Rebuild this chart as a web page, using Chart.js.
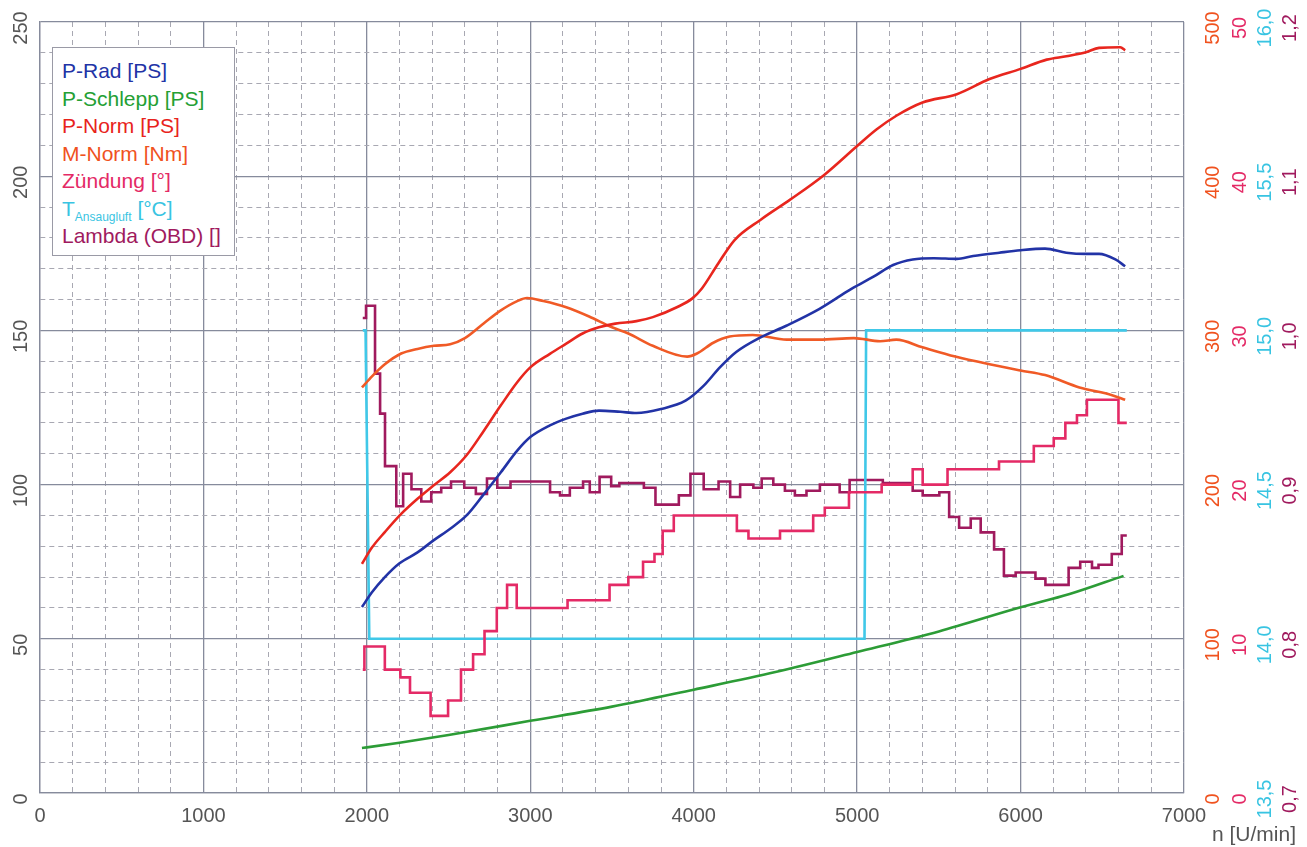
<!DOCTYPE html>
<html>
<head>
<meta charset="utf-8">
<script src="https://cdn.jsdelivr.net/npm/chart.js@4"></script>
<style>
body{margin:0;background:#fff;}
#wrap{position:relative;width:1307px;height:847px;}
#legend{position:absolute;left:52px;top:47px;width:183px;height:209px;border:1px solid #9a9aa6;background:#fff;
  font-family:"Liberation Sans",Arial,sans-serif;font-size:21px;line-height:27.5px;padding:9px 0 0 9px;box-sizing:border-box;white-space:nowrap;}
#legend div{height:27.5px;}
#legend sub{font-size:12px;vertical-align:-5px;line-height:0;}
</style>
</head>
<body>
<div id="wrap">
<canvas id="c" width="1307" height="847"></canvas>
<div id="legend">
  <div style="color:#2233a6">P-Rad [PS]</div>
  <div style="color:#24a034">P-Schlepp [PS]</div>
  <div style="color:#e8231c">P-Norm [PS]</div>
  <div style="color:#f0521e">M-Norm [Nm]</div>
  <div style="color:#e42a66">Zündung [°]</div>
  <div style="color:#38c4e2">T<sub>Ansaugluft</sub> [°C]</div>
  <div style="color:#a01a5e">Lambda (OBD) []</div>
</div>
</div>
<script>
// values, x = rpm
const radRpm = [1970,2030,2110,2200,2310,2410,2510,2610,2710,2820,2920,3000,3120,3220,3320,3420,3550,3650,3800,3950,4060,4160,4260,4400,4570,4770,4870,4970,5100,5220,5340,5470,5610,5710,5870,6000,6150,6280,6400,6480,6580,6640];
const radPS  = [60.3,65,70,74.5,78,82,85.7,90,96.5,104,111,115.4,119.2,121.4,123,124,123.6,123.2,124.5,127.2,132,138,143,147.5,151.6,157,160.3,163.6,167.4,171.2,173,173.4,173.2,174.1,175.2,176,176.5,175.2,174.8,174.8,173,170.8];

const schleppRpm = [1970,2000,2200,2500,3000,3500,4000,4500,5000,5500,6000,6300,6630];
const schleppPS  = [14.6,14.8,16.3,18.8,23.4,28,33.5,39.2,45.7,52.4,60.2,64.5,70.4];

const normRpm = [1970,2030,2110,2210,2310,2410,2510,2610,2710,2820,2920,3000,3120,3220,3320,3420,3520,3650,3750,3900,3990,4050,4150,4250,4410,4590,4800,5000,5120,5240,5400,5610,5810,6000,6160,6280,6400,6480,6610,6640];
const normPS  = [74.3,79.5,84.6,90.5,95.4,99.8,104,109.5,117,125.7,133.2,138,142.4,145.7,149,151,152.2,153,154.3,157.6,160.3,163.6,171.7,179.3,185.9,192.4,200.5,209.8,215.2,219.6,223.9,226.6,231.5,234.8,237.8,238.9,240.2,241.6,241.8,240.8];

const mRpm = [1970,2030,2110,2210,2310,2410,2510,2600,2720,2820,2920,2980,3080,3220,3360,3500,3600,3750,3960,4020,4120,4220,4360,4570,4770,4980,5140,5240,5400,5600,5810,6000,6150,6360,6560,6640];
const mNm  = [263,270,278,285,288,290,291,295,305,313,319,321,319,315,309,302,298,290,283,285,292,296,297,294,294,295,293,294,289,283,278,274,271,263,258,255];

// step curves: value holds from its rpm to the next one
const zRpm = [1975,1985,2110,2205,2264,2390,2497,2576,2650,2720,2795,2858,2917,3228,3485,3600,3690,3760,3810,3878,4264,4335,4528,4731,4802,4950,5150,5340,5401,5553,5868,6081,6203,6274,6345,6406,6599,6650];
const zDeg = [8,9.5,8,7.5,6.5,5,6,8,9,10.5,12,13.5,12,12.5,13.5,14,15,15.5,17,18,17,16.5,17,18,18.5,19.5,20,21,20,21,21.5,22.5,23,24,24.5,25.5,24,24];

const tRpm = [1975,1992,2015,5045,5055,6650];
const tC   = [15.0,15.0,14.0,14.0,15.0,15.0];

const lRpm = [1975,1995,2050,2081,2111,2180,2222,2273,2333,2394,2455,2515,2596,2667,2735,2798,2879,3121,3182,3242,3323,3364,3424,3495,3545,3695,3766,3909,3980,4061,4152,4223,4284,4365,4416,4487,4558,4619,4690,4772,4893,4954,5157,5340,5401,5503,5563,5624,5695,5756,5838,5898,5970,6091,6152,6294,6365,6437,6477,6558,6619,6650];
const lambda = [1.008,1.016,0.972,0.946,0.912,0.886,0.907,0.897,0.889,0.895,0.898,0.902,0.898,0.894,0.904,0.898,0.902,0.895,0.893,0.898,0.902,0.895,0.905,0.899,0.901,0.898,0.887,0.893,0.907,0.897,0.902,0.892,0.900,0.898,0.904,0.900,0.896,0.893,0.896,0.900,0.895,0.903,0.901,0.896,0.893,0.895,0.879,0.872,0.878,0.869,0.858,0.841,0.843,0.839,0.835,0.846,0.850,0.846,0.848,0.855,0.867,0.867];

// tick labels
const leftTicks = ['0','50','100','150','200','250'];
const mTicks = ['0','100','200','300','400','500'];
const zTicks = ['0','10','20','30','40','50'];
const tTicks = ['13,5','14,0','14,5','15,0','15,5','16,0'];
const lTicks = ['0,7','0,8','0,9','1,0','1,1','1,2'];

function pts(xs, ys){ return xs.map((x,i)=>({x:x, y:ys[i]})); }

const FONT = '"Liberation Sans", Arial, sans-serif';

const axisLabels = {
  id: 'axisLabels',
  afterDraw(chart){
    const ctx = chart.ctx;
    const s = chart.scales;
    ctx.save();
    ctx.font = '20px ' + FONT;
    ctx.textAlign = 'center';
    ctx.textBaseline = 'alphabetic';
    function col(scale, labels, x, color){
      ctx.fillStyle = color;
      labels.forEach(t=>{
        const v = parseFloat(t.replace(',','.'));
        const y = scale.getPixelForValue(v) + 6;
        ctx.save();
        ctx.translate(x, y);
        ctx.rotate(-Math.PI/2);
        ctx.fillText(t, 0, 0);
        ctx.restore();
      });
    }
    col(s.y, leftTicks, 27, '#555');
    col(s.yM, mTicks, 1219, '#f0521e');
    col(s.yZ, zTicks, 1246, '#e42a66');
    col(s.yT, tTicks, 1271, '#38c4e2');
    col(s.yL, lTicks, 1296, '#a01a5e');
    ctx.font = '21px ' + FONT;
    ctx.fillStyle = '#555';
    ctx.textAlign = 'left';
    ctx.fillText('n [U/min]', 1212, 841);
    ctx.restore();
  }
};

function majorGrid(step){
  return {
    color: c => (c.tick && c.tick.value % step === 0) ? '#868b9c' : '#a8a8b2',
    lineWidth: c => (c.tick && c.tick.value % step === 0) ? 1.3 : 1,
    drawTicks: false
  };
}
function dash(step){
  return {
    display: true, color: '#868b9c', width: 1.3,
    dash: c => (c.tick && c.tick.value % step === 0) ? [] : [5,4]
  };
}

const line = (label, data, color, axis, extra) => Object.assign({
  label: label, data: data, borderColor: color, backgroundColor: color,
  borderWidth: 2.6, pointRadius: 0, fill: false, yAxisID: axis,
  cubicInterpolationMode: 'monotone'
}, extra || {});

new Chart(document.getElementById('c'), {
  type: 'line',
  data: {
    datasets: [
      line('P-Rad [PS]', pts(radRpm, radPS), '#2233a6', 'y'),
      line('P-Schlepp [PS]', pts(schleppRpm, schleppPS), '#2c9c36', 'y'),
      line('P-Norm [PS]', pts(normRpm, normPS), '#e8261e', 'y'),
      line('M-Norm [Nm]', pts(mRpm, mNm), '#f05a26', 'yM'),
      line('Zündung [°]', pts(zRpm, zDeg), '#e42a66', 'yZ', {stepped: true}),
      line('T Ansaugluft [°C]', pts(tRpm, tC), '#40c8e8', 'yT', {cubicInterpolationMode: 'default', tension: 0}),
      line('Lambda (OBD) []', pts(lRpm, lambda), '#a01a5e', 'yL', {stepped: true})
    ]
  },
  options: {
    responsive: false,
    animation: false,
    layout: {padding: {top: 22, right: 123, left: 0, bottom: 0}},
    plugins: {legend: {display: false}, tooltip: {enabled: false}},
    scales: {
      x: {
        type: 'linear', min: 0, max: 7000,
        afterFit: sc => { sc.height = 54; },
        ticks: {stepSize: 200, autoSkip: false, maxRotation: 0, padding: 11,
          color: '#555', font: {size: 20, family: FONT},
          callback: v => v % 1000 === 0 ? String(v) : ''},
        grid: majorGrid(1000),
        border: dash(1000)
      },
      y: {
        position: 'left', min: 0, max: 250,
        afterFit: sc => { sc.width = 40; },
        ticks: {stepSize: 10, display: false},
        grid: majorGrid(50),
        border: dash(50)
      },
      yM: {position: 'right', min: 0, max: 500, display: false},
      yZ: {position: 'right', min: 0, max: 50, display: false},
      yT: {position: 'right', min: 13.5, max: 16, display: false},
      yL: {position: 'right', min: 0.7, max: 1.2, display: false}
    }
  },
  plugins: [axisLabels]
});
</script>
</body>
</html>
